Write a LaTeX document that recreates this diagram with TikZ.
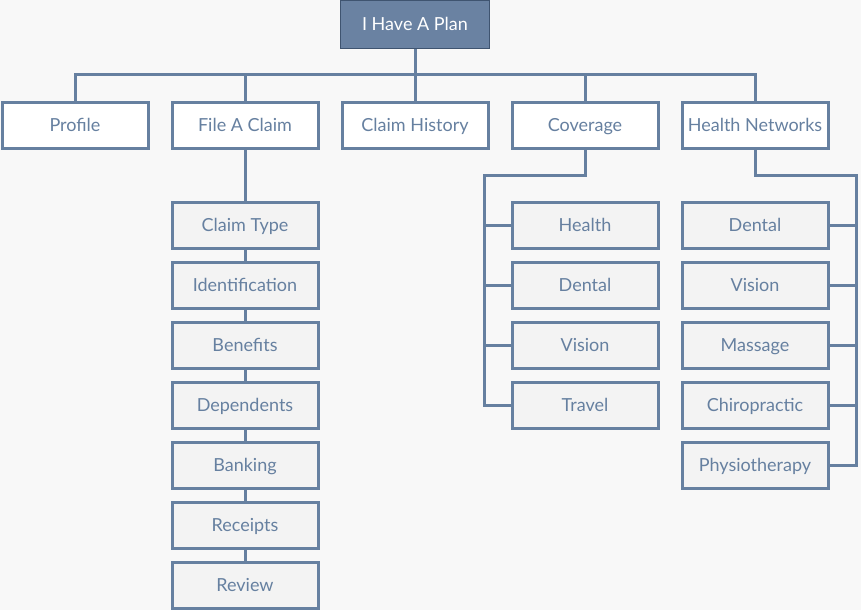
\documentclass[tikz,border=0pt]{standalone}
\usepackage{fontspec}
\setmainfont{Lato}
\definecolor{bg}{HTML}{F8F8F8}
\definecolor{ln}{HTML}{6680A0}
\definecolor{topfill}{HTML}{6A82A2}
\definecolor{topdraw}{HTML}{3F5470}
\definecolor{subfill}{HTML}{F3F3F3}
\begin{document}
\begin{tikzpicture}[x=1pt,y=-1pt,
  base/.style={rectangle, minimum width=146pt, minimum height=46pt, line width=3pt, inner sep=0pt, text height=12.9pt, text depth=0pt, font=\fontsize{18}{22}\selectfont},
  topbox/.style={base, draw=topdraw, fill=topfill, text=white, line width=1.5pt, minimum width=149pt, minimum height=48pt},
  lvone/.style={base, draw=ln, fill=white, text=ln},
  lvtwo/.style={base, draw=ln, fill=subfill, text=ln},
  conn/.style={draw=ln, line width=3pt}]
\fill[bg] (0,0) rectangle (861,610);
\useasboundingbox (0,0) rectangle (861,610);
\node[topbox] (root) at (415,24.5) {I Have A Plan};
\node[lvone] (profile) at (75,125) {Profile};
\node[lvone] (file) at (245,125) {File A Claim};
\node[lvone] (hist) at (415,125) {Claim History};
\node[lvone] (cov) at (585,125) {Coverage};
\node[lvone] (hn) at (755,125) {Health Networks};
\coordinate (bus) at (415,74);
\draw[conn] (root.south) -- (bus);
\draw[conn] (profile.north) |- (bus) -| (hn.north);
\draw[conn] (file.north) -- (file.north |- bus);
\draw[conn] (hist.north) -- (hist.north |- bus);
\draw[conn] (cov.north) -- (cov.north |- bus);
% File a claim chain
\node[lvtwo] (ct) at (245,225) {Claim Type};
\node[lvtwo] (id) at (245,285) {Identification};
\node[lvtwo] (ben) at (245,345) {Benefits};
\node[lvtwo] (dep) at (245,405) {Dependents};
\node[lvtwo] (bank) at (245,465) {Banking};
\node[lvtwo] (rec) at (245,525) {Receipts};
\node[lvtwo] (rev) at (245,585) {Review};
\draw[conn] (file.south) -- (ct.north);
\draw[conn] (ct.south) -- (id.north);
\draw[conn] (id.south) -- (ben.north);
\draw[conn] (ben.south) -- (dep.north);
\draw[conn] (dep.south) -- (bank.north);
\draw[conn] (bank.south) -- (rec.north);
\draw[conn] (rec.south) -- (rev.north);
% Coverage
\node[lvtwo] (ch) at (585,225) {Health};
\node[lvtwo] (cd) at (585,285) {Dental};
\node[lvtwo] (cv) at (585,345) {Vision};
\node[lvtwo] (ctr) at (585,405) {Travel};
\coordinate (cj) at (585,175);
\coordinate (cl) at (484,175);
\draw[conn] (cov.south) -- (cj) -- (cl) |- (ctr.west);
\draw[conn] (cl |- ch.west) -- (ch.west);
\draw[conn] (cl |- cd.west) -- (cd.west);
\draw[conn] (cl |- cv.west) -- (cv.west);
% Health networks
\node[lvtwo] (hd) at (755,225) {Dental};
\node[lvtwo] (hv) at (755,285) {Vision};
\node[lvtwo] (hm) at (755,345) {Massage};
\node[lvtwo] (hc) at (755,405) {Chiropractic};
\node[lvtwo] (hp) at (755,465) {Physiotherapy};
\coordinate (hj) at (755,175);
\coordinate (hr) at (856,175);
\draw[conn] (hn.south) -- (hj) -- (hr) |- (hp.east);
\draw[conn] (hr |- hd.east) -- (hd.east);
\draw[conn] (hr |- hv.east) -- (hv.east);
\draw[conn] (hr |- hm.east) -- (hm.east);
\draw[conn] (hr |- hc.east) -- (hc.east);
\end{tikzpicture}
\end{document}
